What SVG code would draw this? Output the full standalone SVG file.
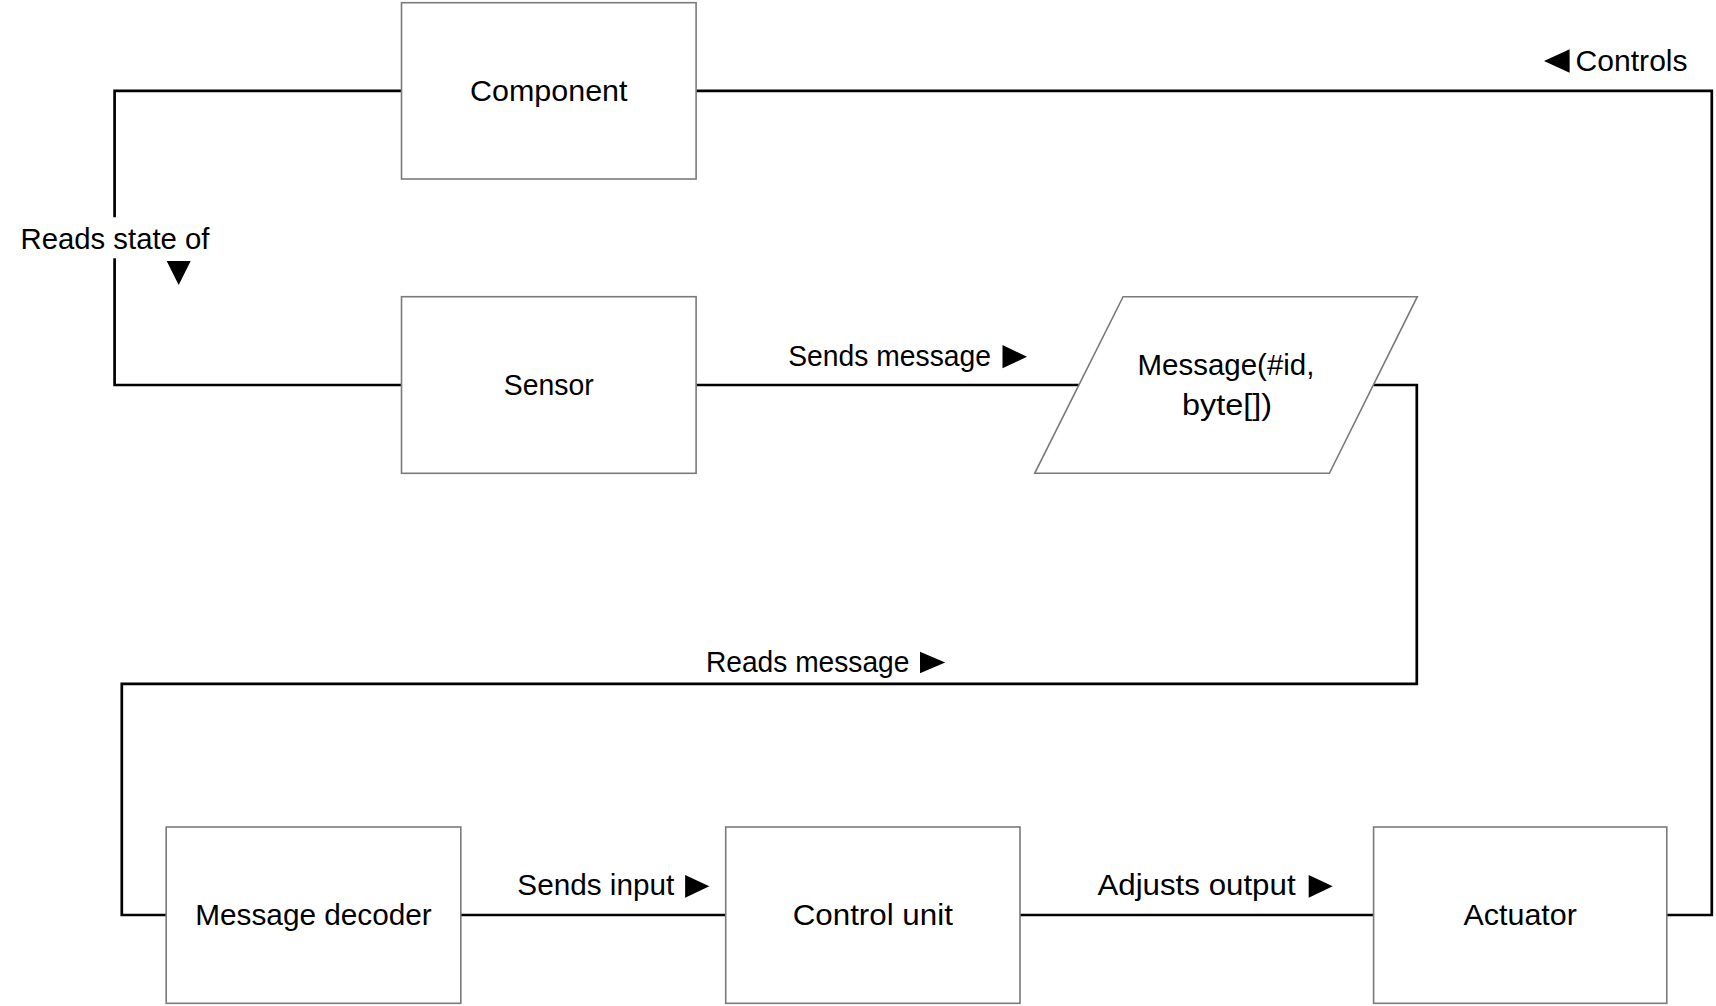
<svg xmlns="http://www.w3.org/2000/svg" width="1716" height="1006" viewBox="0 0 1716 1006">
<style>
.box{fill:#ffffff;stroke:#7a7a7a;stroke-width:1.6}
.conn{fill:none;stroke:#000000;stroke-width:2.7;stroke-linejoin:miter}
.lbl{font-family:"Liberation Sans",Arial,sans-serif;font-size:29px;fill:#000000}
.mid{text-anchor:middle}
.tri{fill:#000000}
</style>
<rect x="0" y="0" width="1716" height="1006" fill="#ffffff"/>
<g id="connectors">
  <path class="conn" d="M401.5,90.8 H114.6 V217.3 M114.6,258.3 V385 H401.5"/>
  <path class="conn" d="M696.1,90.8 H1711.8 V915 H1666.8"/>
  <path class="conn" d="M696.1,385 H1078.9"/>
  <path class="conn" d="M1373.4,385 H1416.8 V683.8 H121.8 V915 H166.2"/>
  <path class="conn" d="M460.8,915 H725.7"/>
  <path class="conn" d="M1020,915 H1373.6"/>
  <g id="label-reads-state">
    <text class="lbl mid" x="115" y="248.5" textLength="189" lengthAdjust="spacingAndGlyphs">Reads state of</text>
    <polygon class="tri" points="166.7,261 190.7,261 178.7,285"/>
  </g>
  <g id="label-controls">
    <polygon class="tri" points="1544,61 1569.6,49.3 1569.6,72.7"/>
    <text class="lbl" x="1575.6" y="70.7" textLength="112" lengthAdjust="spacingAndGlyphs">Controls</text>
  </g>
  <g id="label-sends-message">
    <text class="lbl mid" x="889.6" y="365.7" textLength="202.7" lengthAdjust="spacingAndGlyphs">Sends message</text>
    <polygon class="tri" points="1002.5,345 1027,356.7 1002.5,368.3"/>
  </g>
  <g id="label-reads-message">
    <text class="lbl mid" x="807.7" y="671.7" textLength="203.5" lengthAdjust="spacingAndGlyphs">Reads message</text>
    <polygon class="tri" points="920,651.7 945.2,662.5 920,673.3"/>
  </g>
  <g id="label-sends-input">
    <text class="lbl mid" x="595.8" y="895.3" textLength="156.9" lengthAdjust="spacingAndGlyphs">Sends input</text>
    <polygon class="tri" points="685.1,875 709.3,886.3 685.1,897.7"/>
  </g>
  <g id="label-adjusts-output">
    <text class="lbl mid" x="1196.5" y="895.3" textLength="198.2" lengthAdjust="spacingAndGlyphs">Adjusts output</text>
    <polygon class="tri" points="1308.7,875 1332.7,886.3 1308.7,897.7"/>
  </g>
</g>
<g id="component">
  <rect class="box" x="401.5" y="2.7" width="294.6" height="176.3"/>
  <text class="lbl mid" x="548.8" y="100.7" textLength="157.4" lengthAdjust="spacingAndGlyphs">Component</text>
</g>
<g id="sensor">
  <rect class="box" x="401.5" y="296.7" width="294.6" height="176.6"/>
  <text class="lbl mid" x="548.8" y="394.5" textLength="89.9" lengthAdjust="spacingAndGlyphs">Sensor</text>
</g>
<g id="message">
  <polygon class="box" points="1123.1,296.7 1417.3,296.7 1329.4,473.3 1034.7,473.3"/>
  <text class="lbl mid" x="1226" y="374.5" textLength="176.9" lengthAdjust="spacingAndGlyphs">Message(#id,</text>
  <text class="lbl mid" x="1227" y="415" textLength="90" lengthAdjust="spacingAndGlyphs">byte[])</text>
</g>
<g id="message-decoder">
  <rect class="box" x="166.2" y="827" width="294.6" height="176.3"/>
  <text class="lbl mid" x="313.5" y="925" textLength="236.5" lengthAdjust="spacingAndGlyphs">Message decoder</text>
</g>
<g id="control-unit">
  <rect class="box" x="725.7" y="827" width="294.3" height="176.3"/>
  <text class="lbl mid" x="872.8" y="925" textLength="160.2" lengthAdjust="spacingAndGlyphs">Control unit</text>
</g>
<g id="actuator">
  <rect class="box" x="1373.6" y="827" width="293.2" height="176.3"/>
  <text class="lbl mid" x="1520.2" y="925" textLength="113.4" lengthAdjust="spacingAndGlyphs">Actuator</text>
</g>
</svg>
